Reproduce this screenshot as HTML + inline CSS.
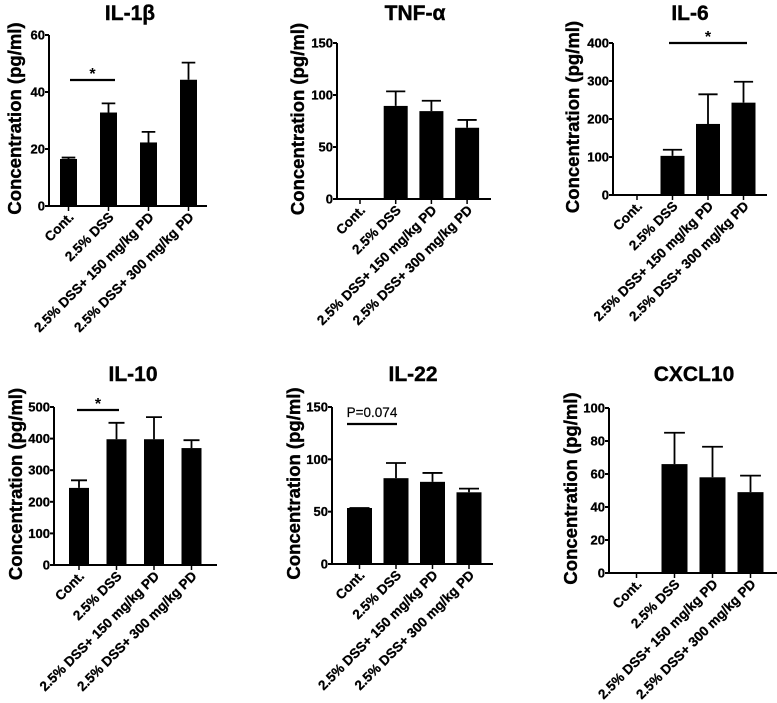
<!DOCTYPE html>
<html><head><meta charset="utf-8"><style>
body{margin:0;background:#fff}
svg{display:block;font-family:"Liberation Sans",Arial,sans-serif;font-weight:bold}
</style></head><body>
<svg id="fig" width="777" height="703" viewBox="0 0 777 703"></svg>
<script>
const categories = ["Cont.", "2.5% DSS", "2.5% DSS+ 150 mg/kg PD", "2.5% DSS+ 300 mg/kg PD"];
const il1bMeans = [16.5, 32.8, 22.3, 44.3];
const il1bErr = [17, 36, 26, 50.3];
const il1bTicks = [0, 20, 40, 60];
const tnfMeans = [0, 89.5, 84.5, 68.5];
const tnfErr = [0, 103.5, 94.5, 76];
const tnfTicks = [0, 50, 100, 150];
const il6Means = [0, 103, 187, 243];
const il6Err = [0, 119, 265, 298];
const il6Ticks = [0, 100, 200, 300, 400];
const il10Means = [244, 398, 398, 370];
const il10Err = [268, 450, 468, 395];
const il10Ticks = [0, 100, 200, 300, 400, 500];
const il22Means = [53.5, 82, 78.5, 68.5];
const il22Err = [53.5, 96.5, 87, 72];
const il22Ticks = [0, 50, 100, 150];
const cxclMeans = [0, 66, 58, 49];
const cxclErr = [0, 85, 76.5, 59];
const cxclTicks = [0, 20, 40, 60, 80, 100];
const titles = ["IL-1β", "TNF-α", "IL-6", "IL-10", "IL-22", "CXCL10"];

const NS = "http://www.w3.org/2000/svg";
const svg = document.getElementById("fig");
function mk(tag, attrs, parent, text){
  const e = document.createElementNS(NS, tag);
  for (const k in attrs) e.setAttribute(k, attrs[k]);
  if (text !== undefined) e.textContent = text;
  (parent || svg).appendChild(e);
  return e;
}
const layouts = [
  {ax:49, top:35, bot:206, right:207, c0:68.5, step:40, bw:17, tx:130, ty:20, ylx:14, means:il1bMeans, err:il1bErr, ticks:il1bTicks, sig:{x1:70,x2:115,y:80,label:"*"}},
  {ax:337, top:43, bot:199, right:491, c0:360, step:35.7, bw:24, tx:415, ty:20, ylx:297, means:tnfMeans, err:tnfErr, ticks:tnfTicks},
  {ax:613, top:43, bot:195, right:767, c0:637, step:35.5, bw:24, tx:690, ty:20, ylx:572, means:il6Means, err:il6Err, ticks:il6Ticks, sig:{x1:669,x2:747,y:43,label:"*"}},
  {ax:54, top:407, bot:565, right:217, c0:79, step:37.5, bw:20, tx:133, ty:381, ylx:15, means:il10Means, err:il10Err, ticks:il10Ticks, sig:{x1:77,x2:119,y:410,label:"*"}},
  {ax:332, top:407, bot:564, right:493, c0:359.5, step:36.5, bw:25, tx:413, ty:381, ylx:293, means:il22Means, err:il22Err, ticks:il22Ticks, sig:{x1:347,x2:397,y:424,label:"P=0.074"}},
  {ax:609, top:408, bot:573, right:777, c0:636.5, step:38, bw:26, tx:694, ty:381, ylx:570, means:cxclMeans, err:cxclErr, ticks:cxclTicks}
];
layouts.forEach((p, i) => {
  const g = mk("g", {});
  
  
  const maxV = p.ticks[p.ticks.length - 1];
  const y = v => p.bot - (v / maxV) * (p.bot - p.top);
  const x = k => p.c0 + k * p.step;
  const t = mk("text", {x:p.tx, y:p.ty, "text-anchor":"middle", "font-size":21, stroke:"#000", "stroke-width":0.4}, g, titles[i]);
  
  
  const yl = mk("text", {x:0, y:0, "text-anchor":"middle", "font-size":18.5, stroke:"#000", "stroke-width":0.4, transform:`translate(${p.ylx + 7},${(p.top + p.bot) / 2 - 2}) rotate(-90)`}, g, "Concentration (pg/ml)");
  
  
  const ya = mk("line", {x1:p.ax, y1:p.top, x2:p.ax, y2:p.bot, stroke:"#000", "stroke-width":2}, g);
  
  
  const xa = mk("line", {x1:p.ax, y1:p.bot, x2:p.right, y2:p.bot, stroke:"#000", "stroke-width":2}, g);
  
  
  p.ticks.forEach(v => {
    mk("line", {x1:p.ax - 4, y1:y(v), x2:p.ax, y2:y(v), stroke:"#000", "stroke-width":2}, g);
    const tl = mk("text", {x:p.ax - 4, y:y(v) + 4.5, "text-anchor":"end", "font-size":13, stroke:"#000", "stroke-width":0.3}, g, String(v));
    
    
  });
  categories.forEach((c, k) => {
    const cx = x(k);
    mk("line", {x1:cx, y1:p.bot, x2:cx, y2:p.bot + 5, stroke:"#000", "stroke-width":1.5}, g);
    if (p.means[k] > 0) {
      const b = mk("rect", {x:cx - p.bw / 2, y:y(p.means[k]), width:p.bw, height:p.bot - y(p.means[k]), fill:"#000"}, g);
      
      
      const e = mk("path", {d:`M${cx},${y(p.means[k])}V${y(p.err[k])}M${cx - p.bw * 0.4},${y(p.err[k])}H${cx + p.bw * 0.4}`, stroke:"#000", "stroke-width":1.8, fill:"none"}, g);
      
      
    }
    const lbl = mk("text", {x:0, y:0, "text-anchor":"end", "font-size":13.5, stroke:"#000", "stroke-width":0.3, transform:`translate(${cx + 6},${p.bot + 12}) rotate(-45)`}, g, c);
    
    
  });
  if (p.sig) {
    const s = mk("line", {x1:p.sig.x1, y1:p.sig.y, x2:p.sig.x2, y2:p.sig.y, stroke:"#000", "stroke-width":2.2}, g);
    
    
    const isStar = p.sig.label === "*";
    const st = mk("text", {x:(p.sig.x1 + p.sig.x2) / 2, y:p.sig.y - (isStar ? 1 : 7), "text-anchor":"middle", "font-size":isStar ? 16 : 13.5, "font-weight":isStar ? "bold" : "normal", stroke:"#000", "stroke-width":isStar ? 0 : 0.2}, g, p.sig.label);
    
    
  }
});
</script>
</body></html>
